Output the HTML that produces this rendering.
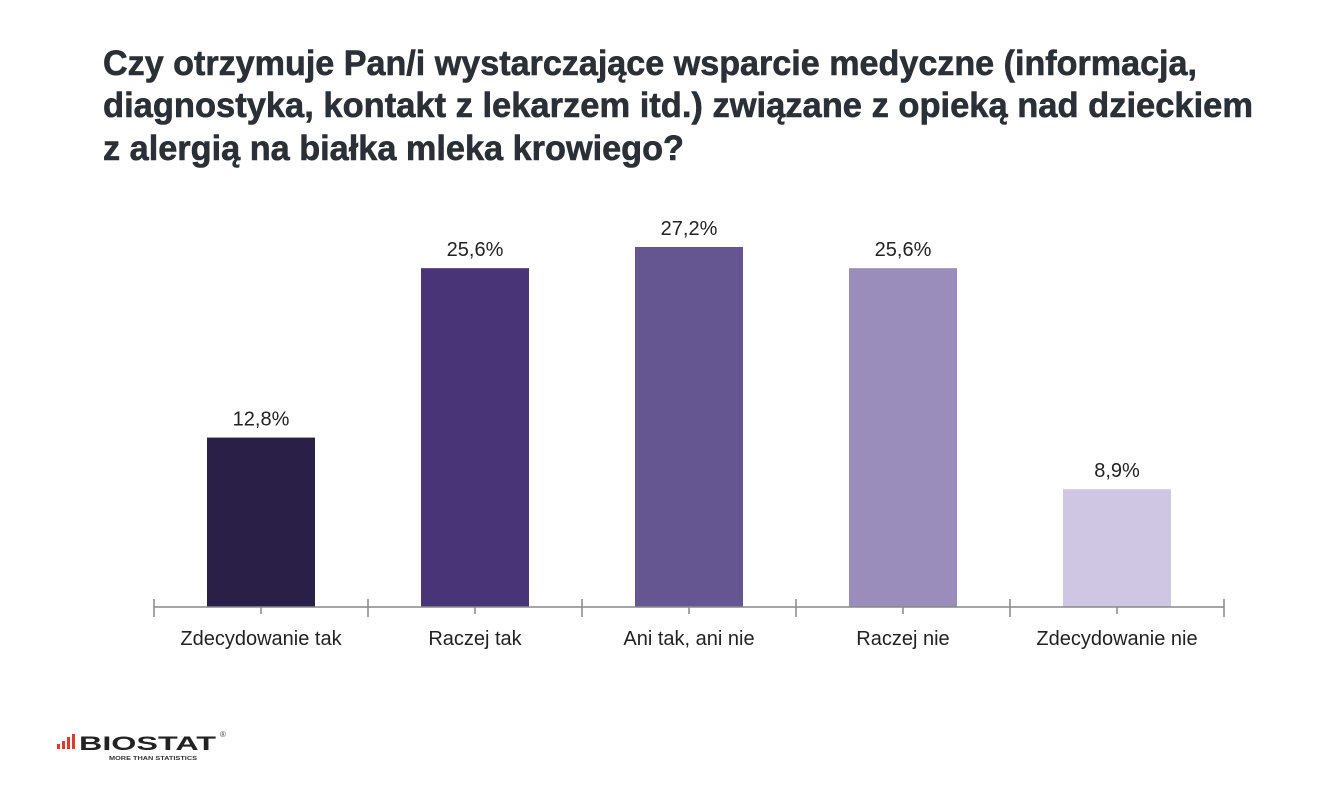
<!DOCTYPE html>
<html><head><meta charset="utf-8"><style>
html,body{margin:0;padding:0;background:#fff;width:1330px;height:806px;overflow:hidden}
svg{display:block}
</style></head><body>
<svg id="chart" width="1330" height="806" font-family="Liberation Sans, sans-serif">
<g fill="#2b2f36" font-weight="bold" font-size="35" stroke="#2b2f36" stroke-width="0.6">
<text x="103" y="75" textLength="1094" lengthAdjust="spacingAndGlyphs">Czy otrzymuje Pan/i wystarczające wsparcie medyczne (informacja,</text>
<text x="103" y="117" textLength="1150" lengthAdjust="spacingAndGlyphs">diagnostyka, kontakt z lekarzem itd.) związane z opieką nad dzieckiem</text>
<text x="103" y="160" textLength="581" lengthAdjust="spacingAndGlyphs">z alergią na białka mleka krowiego?</text>
</g>
<g id="bars"></g>
<g id="axis"></g>
<g>
<rect x="57" y="744" width="3" height="5" fill="#e03a2f"/>
<rect x="62" y="741" width="3" height="8" fill="#e03a2f"/>
<rect x="67" y="737" width="3" height="12" fill="#e03a2f"/>
<rect x="72" y="734" width="3" height="15" fill="#e03a2f"/>
<text x="79" y="750" font-size="19" font-weight="bold" fill="#222" textLength="137" lengthAdjust="spacingAndGlyphs">BIOSTAT</text>
<text x="220" y="737" font-size="8" fill="#444">®</text>
<text x="109" y="760" font-size="5" font-weight="bold" fill="#333" textLength="88" lengthAdjust="spacingAndGlyphs">MORE THAN STATISTICS</text>
</g>
</svg>
<script>
const categories = ["Zdecydowanie tak","Raczej tak","Ani tak, ani nie","Raczej nie","Zdecydowanie nie"];
const values = [12.8, 25.6, 27.2, 25.6, 8.9];
const valueLabels = ["12,8%","25,6%","27,2%","25,6%","8,9%"];
const colors = ["#2a1f47","#4a3478","#655591","#9b8dbb","#cfc6e4"];
const NS="http://www.w3.org/2000/svg";
const x0=154, band=214, baseY=607, pxPerUnit=360/27.2, barW=108;
function xCenter(i){return x0+band*i+band/2;}
function yPos(v){return baseY-v*pxPerUnit;}
const bars=document.getElementById('bars'), axis=document.getElementById('axis');
function mk(tag,attrs,parent){const e=document.createElementNS(NS,tag);for(const k in attrs)e.setAttribute(k,attrs[k]);parent.appendChild(e);return e;}
values.forEach((v,i)=>{
  const r=mk('rect',{x:xCenter(i)-barW/2,y:yPos(v),width:barW,height:baseY-yPos(v),fill:colors[i]},bars);
  
  
  const t=mk('text',{x:xCenter(i),y:yPos(v)-12,'text-anchor':'middle','font-size':'20',fill:'#222'},bars);
  t.textContent=valueLabels[i];
  
  
  const c=mk('text',{x:xCenter(i),y:645,'text-anchor':'middle','font-size':'20',fill:'#222'},axis);
  c.textContent=categories[i];
  
  
  const m=mk('line',{x1:xCenter(i),x2:xCenter(i),y1:baseY,y2:614,stroke:'#888','stroke-width':1.5},axis);
  
  
});
const al=mk('line',{x1:x0,x2:x0+band*categories.length,y1:baseY,y2:baseY,stroke:'#888','stroke-width':1.5},axis);


for(let i=0;i<=categories.length;i++){
  const t=mk('line',{x1:x0+band*i,x2:x0+band*i,y1:599,y2:617,stroke:'#888','stroke-width':1.5},axis);
  
  
}
</script>
</body></html>
